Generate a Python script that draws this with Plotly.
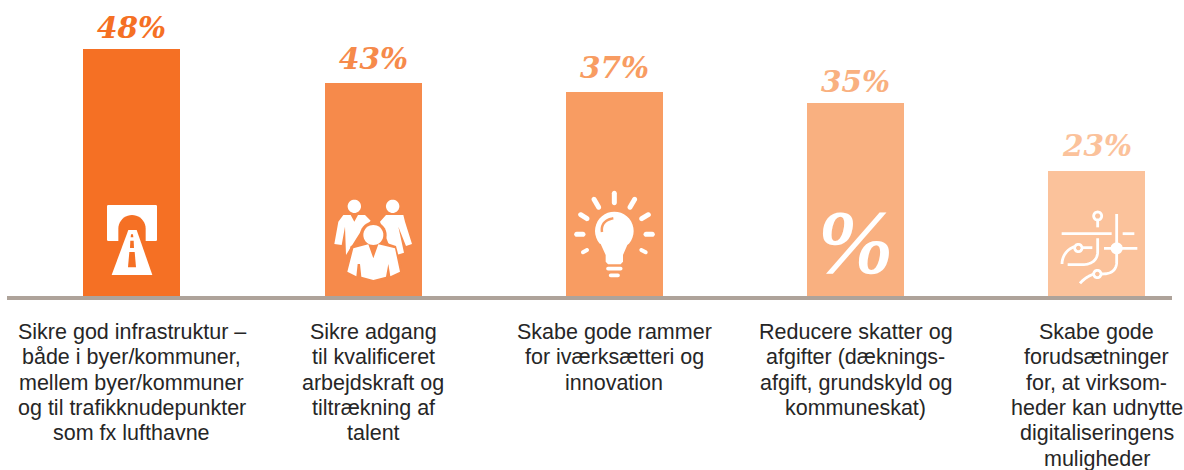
import math
import plotly.graph_objects as go

# ---- data ----
categories = ["Infrastruktur", "Arbejdskraft", "Iværksætteri", "Skatter", "Digitalisering"]
percent_labels = ["48%", "43%", "37%", "35%", "23%"]
# bar heights (the source bars are not strictly proportional to their labels)
bar_values = [48.0, 41.4, 39.6, 37.5, 24.3]
bar_colors = ["#F57024", "#F68A4B", "#F89C62", "#F9B080", "#FBC29B"]
label_lines = [
    ["Sikre god infrastruktur –", "både i byer/kommuner,", "mellem byer/kommuner", "og til trafikknudepunkter", "som fx lufthavne"],
    ["Sikre adgang", "til kvalificeret", "arbejdskraft og", "tiltrækning af", "talent"],
    ["Skabe gode rammer", "for iværksætteri og", "innovation"],
    ["Reducere skatter og", "afgifter (dæknings-", "afgift, grundskyld og", "kommuneskat)"],
    ["Skabe gode", "forudsætninger", "for, at virksom-", "heder kan udnytte", "digitaliseringens", "muligheder"],
]

# ---- page geometry ----
W, H = 1184, 470
ML, MR, MT, MB = 7, 12, 0, 174
PW, PH = W - ML - MR, H - MT - MB
CAT_STEP = 241.3
FIRST_OFFSET = 124.7
WHITE = "#FFFFFF"
AXIS = "#AEA39A"

fig = go.Figure(go.Bar(
    x=list(range(len(categories))), y=bar_values,
    marker=dict(color=bar_colors, line=dict(width=0)),
    width=97 / CAT_STEP, hoverinfo="skip", showlegend=False,
))

# ---- helpers for decorative icons (page pixels -> paper coordinates) ----
def pp(px, py):
    return f"{(px - ML) / PW:.5f},{(H - MB - py) / PH:.5f}"

def shape(points, fill=None, stroke=None, lw=0, close=True):
    d = "M" + " L".join(pp(*p) for p in points) + (" Z" if close else "")
    fig.add_shape(type="path", path=d, xref="paper", yref="paper",
                  fillcolor=fill if fill else "rgba(0,0,0,0)",
                  line=dict(color=stroke if stroke else "rgba(0,0,0,0)", width=lw), layer="above")

def circle(cx, cy, r, n=36):
    return [(cx + r * math.cos(2 * math.pi * i / n), cy + r * math.sin(2 * math.pi * i / n)) for i in range(n)]

def capsule(x1, y1, x2, y2, w, n=8):
    a = math.atan2(y2 - y1, x2 - x1)
    pts = []
    for i in range(n + 1):
        t = a + math.pi / 2 + math.pi * i / n
        pts.append((x1 + w / 2 * math.cos(t), y1 + w / 2 * math.sin(t)))
    for i in range(n + 1):
        t = a - math.pi / 2 + math.pi * i / n
        pts.append((x2 + w / 2 * math.cos(t), y2 + w / 2 * math.sin(t)))
    return pts

def bez(p0, p1, p2, p3, n=14):
    out = []
    for i in range(n + 1):
        t = i / n
        u = 1 - t
        out.append(tuple(u**3 * p0[k] + 3 * u*u*t * p1[k] + 3 * u*t*t * p2[k] + t**3 * p3[k] for k in (0, 1)))
    return out

# Icon 1: tunnel and road (zoom coordinates)
z1 = lambda x, y: (60 + x / 3, y / 3)
c = bar_colors[0]
shape([z1(x, y) for x, y in [(143, 615), (289, 615), (291, 618), (291, 720), (289, 723), (143, 723), (141, 720), (141, 618)]], WHITE)
arch = [(175, 725)] + [(216 + 41 * math.cos(math.pi - math.pi * i / 20), 686 - 41 * math.sin(math.pi * i / 20)) for i in range(21)] + [(257, 725)]
shape([z1(*p) for p in arch], c)
shape([z1(*p) for p in [(205, 690), (230, 690), (277, 825), (155, 825)]], WHITE)
shape([z1(*p) for p in [(213, 703), (219, 703), (220, 712), (212, 712)]], c)
shape([z1(*p) for p in [(211, 722), (221, 722), (222, 744), (210, 744)]], c)
shape([z1(*p) for p in [(208, 756), (224, 756), (228, 802), (204, 802)]], c)

# Icon 2: people
c = bar_colors[1]
shape([z1(*p) for p in circle(883, 619, 20)], WHITE)
shape([z1(*p) for p in circle(998, 619, 20)], WHITE)
left = [(850, 645), (872, 645), (883, 665), (894, 645), (915, 645), (932, 662), (905, 690), (880, 730), (858, 765),
        (855, 680), (845, 735), (823, 732), (835, 665)]
shape([z1(*p) for p in left], WHITE)
right = [(1030, 645), (1035, 665), (1056, 732), (1038, 738), (1015, 680), (1032, 758), (1010, 765), (985, 730), (960, 665), (978, 645)]
shape([z1(*p) for p in right], WHITE)
shape([z1(*p) for p in circle(940, 705, 40)], c)
ring = [(872, 738), (915, 724), (965, 724), (1008, 738), (1030, 822), (940, 850), (850, 822)]
shape([z1(*p) for p in ring], c)
shape([z1(*p) for p in circle(940, 705, 30)], WHITE)
front = [(880, 745), (925, 733), (940, 775), (955, 733), (1005, 745), (1020, 815), (991, 829), (985, 792), (978, 830),
         (940, 840), (904, 830), (900, 792), (893, 792), (889, 829), (862, 815)]
shape([z1(*p) for p in front], WHITE)

# Icon 3: light bulb
z2 = lambda x, y: (550 + x / 3, 40 + y / 3)
c = bar_colors[2]
for x1, y1, x2, y2 in [(193, 460, 193, 488), (132, 478, 146, 502), (254, 478, 240, 502), (92, 524, 111, 536),
                       (295, 524, 275, 536), (80, 583, 99, 583), (288, 583, 307, 583), (99, 637, 111, 630), (274, 630, 287, 637)]:
    w = 15 if y1 < 630 else 12
    shape([z2(*p) for p in capsule(x1, y1, x2, y2, w)], WHITE)
bulb = [(193 + 58 * math.cos(math.radians(a)), 573 + 58 * math.sin(math.radians(a))) for a in range(-220, 41, 10)]
bulb = bulb + [(232, 615), (219, 645), (219, 665), (212, 673), (174, 673), (167, 665), (167, 645), (152, 612)]
shape([z2(*p) for p in bulb], WHITE)
shape([z2(*p) for p in capsule(174, 686, 212, 686, 11)], WHITE)
shape([z2(*p) for p in capsule(182, 706, 204, 706, 11)], WHITE)
hl = bez((156, 576), (152, 552), (168, 538), (190, 535))
shape([z2(*p) for p in hl], None, c, 2.5, close=False)

# Icon 5: network / map
z3 = lambda x, y: (1000 + x / 3, 120 + y / 3)
LW = 2.8
def stroke(pts, lw=LW):
    shape([z3(*p) for p in pts], None, WHITE, lw, close=False)
shape([z3(*p) for p in circle(293, 288, 12)], None, WHITE, LW)
stroke([(293, 300), (293, 322)])
stroke([(185, 341), (335, 341)])
stroke([(368, 341), (403, 341)])
stroke([(350, 282), (350, 425)] + bez((350, 425), (350, 450), (335, 462), (306, 462)))
shape([z3(*p) for p in circle(350, 385, 18)], WHITE)
stroke([(312, 385), (412, 385)])
stroke([(293, 355), (293, 395)] + bez((293, 395), (293, 420), (275, 434), (245, 434)) + [(203, 434)])
shape([z3(*p) for p in circle(235, 384, 11)], None, WHITE, LW)
stroke([(186, 432)] + bez((186, 432), (186, 405), (205, 385), (224, 380)))
stroke([(247, 383), (277, 383)])
shape([z3(*p) for p in circle(292, 462, 11)], None, WHITE, LW)
stroke(bez((240, 490), (250, 478), (265, 468), (281, 462)))

# ---- annotations ----
gaps = [2, 5, 5, 2, 6]
anns = []
for i, lab in enumerate(percent_labels):
    anns.append(dict(x=i, y=bar_values[i], xref="x", yref="y", text=f"<b><i>{lab}</i></b>", showarrow=False,
                     yanchor="bottom", yshift=gaps[i], font=dict(family="DejaVu Serif", size=29.5, color=bar_colors[i])))
# large % sign that serves as icon on the fourth bar
anns.append(dict(x=3, y=0, xref="x", yref="y", text="<b><i>%</i></b>", showarrow=False, yanchor="middle", yshift=54,
                 font=dict(family="Liberation Serif", size=92, color=WHITE)))
PITCH = 25.3
for i, lines in enumerate(label_lines):
    for j, line in enumerate(lines):
        py = 332 + PITCH * j
        anns.append(dict(x=i, xref="x", yref="paper", y=(H - MB - py) / PH, text=line, showarrow=False,
                         yanchor="middle", font=dict(family="Liberation Sans", size=21.5, color="#262626")))

fig.update_layout(
    width=W, height=H, margin=dict(l=ML, r=MR, t=MT, b=MB, pad=0),
    paper_bgcolor="white", plot_bgcolor="white", annotations=anns, bargap=0,
    xaxis=dict(range=[-FIRST_OFFSET / CAT_STEP, (PW - FIRST_OFFSET) / CAT_STEP], showgrid=False, zeroline=False,
               showticklabels=False, ticks="", showline=True, linecolor=AXIS, linewidth=4, fixedrange=True),
    yaxis=dict(range=[0, 57.48], visible=False, fixedrange=True),
)
fig.write_html("out.html", config={"displayModeBar": False},
               post_script="document.body.style.margin='0';document.documentElement.style.overflow='hidden';")
